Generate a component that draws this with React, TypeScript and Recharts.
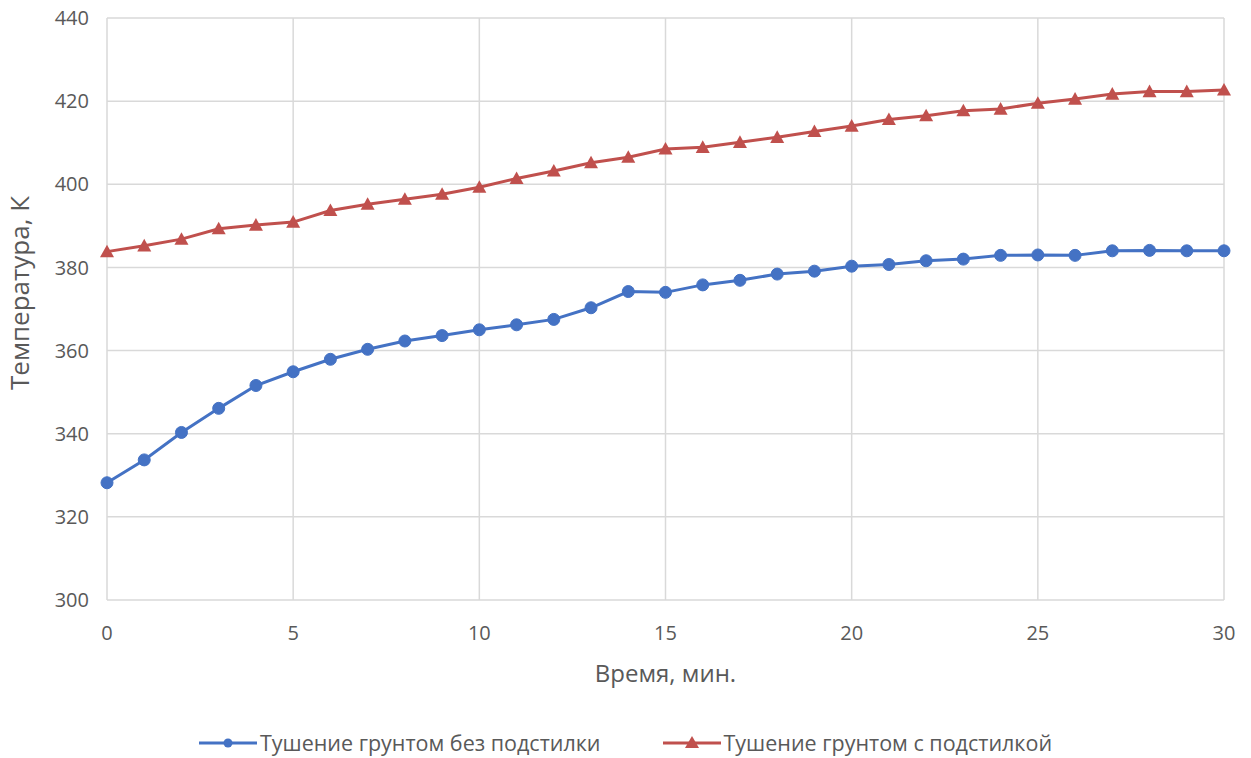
import { LineChart, Line, XAxis, YAxis, CartesianGrid } from 'recharts'

// время, мин.
const minutes = [
  0, 1, 2, 3, 4, 5, 6, 7, 8, 9, 10, 11, 12, 13, 14, 15,
  16, 17, 18, 19, 20, 21, 22, 23, 24, 25, 26, 27, 28, 29, 30,
]

// температура, K
const withoutBedding = [
  328.2, 333.7, 340.3, 346.1, 351.6, 354.9, 357.9, 360.3, 362.3, 363.6, 365.0,
  366.2, 367.5, 370.3, 374.2, 374.0, 375.8, 376.9, 378.4, 379.1, 380.3,
  380.7, 381.6, 382.0, 382.9, 383.0, 382.9, 384.0, 384.1, 384.0, 384.0,
]
const withBedding = [
  383.8, 385.2, 386.8, 389.3, 390.2, 390.9, 393.7, 395.2, 396.4, 397.6, 399.3,
  401.4, 403.2, 405.2, 406.5, 408.5, 408.9, 410.1, 411.3, 412.7, 414.0,
  415.6, 416.5, 417.7, 418.1, 419.5, 420.5, 421.7, 422.3, 422.3, 422.7,
]

const xTicks = [0, 5, 10, 15, 20, 25, 30]
const yTicks = [300, 320, 340, 360, 380, 400, 420, 440]

const SERIES = [
  { key: 'a', name: 'Тушение грунтом без подстилки', color: '#4472C4', shape: 'circle' },
  { key: 'b', name: 'Тушение грунтом с подстилкой', color: '#C0504D', shape: 'triangle' },
]

const data = minutes.map((t, i) => ({ t, a: withoutBedding[i], b: withBedding[i] }))

const FONT = '"Open Sans", "Noto Sans", sans-serif'
const TEXT = '#595959'

function Triangle(props: any) {
  const { cx, cy, fill } = props
  if (cx == null || cy == null) return null
  const s = 7
  return <path d={`M${cx},${cy - s} L${cx + s},${cy + s * 0.8} L${cx - s},${cy + s * 0.8} Z`} fill={fill} />
}

function LegendBox() {
  return (
    <div style={{
      position: 'absolute', left: 0, top: 728, width: 1251,
      display: 'flex', justifyContent: 'center', gap: 62,
      fontFamily: FONT, fontSize: 21.5, color: TEXT, lineHeight: '30px',
    }}>
      {SERIES.map(s => (
        <div key={s.key} style={{ display: 'flex', alignItems: 'center', gap: 3 }}>
          <svg width={58} height={18}>
            <line x1={0} y1={9} x2={58} y2={9} stroke={s.color} strokeWidth={3} />
            {s.shape === 'circle'
              ? <circle cx={29} cy={9} r={4.5} fill={s.color} />
              : <path d="M29,2 L36,14 L22,14 Z" fill={s.color} />}
          </svg>
          <span>{s.name}</span>
        </div>
      ))}
    </div>
  )
}

export default function App() {
  return (
    <div style={{ position: 'absolute', left: 0, top: 0, width: 1251, height: 758, background: '#fff' }}>
      <LineChart width={1251} height={758} data={data} margin={{ top: 18, right: 27, bottom: 128, left: 37 }}>
        <CartesianGrid stroke="#d9d9d9" strokeWidth={1.5} />
        <XAxis
          dataKey="t"
          type="number"
          domain={[0, 30]}
          ticks={xTicks}
          height={30}
          axisLine={false}
          tickLine={false}
          tickMargin={20}
          tick={{ fill: TEXT, fontSize: 20, fontFamily: FONT }}
          label={{ value: 'Время, мин.', position: 'insideBottom', offset: -52, fill: TEXT, fontSize: 24, fontFamily: FONT }}
        />
        <YAxis
          type="number"
          domain={[300, 440]}
          ticks={yTicks}
          width={70}
          axisLine={false}
          tickLine={false}
          tickMargin={12}
          tick={{ fill: TEXT, fontSize: 20, fontFamily: FONT }}
          label={{ value: 'Температура, К', angle: -90, position: 'insideLeft', offset: -17, dy: -16, style: { textAnchor: 'middle' }, fill: TEXT, fontSize: 26, fontFamily: FONT }}
        />
        <Line
          type="linear"
          dataKey="a"
          name={SERIES[0].name}
          stroke={SERIES[0].color}
          strokeWidth={3}
          dot={{ r: 6, fill: SERIES[0].color, stroke: SERIES[0].color, strokeWidth: 1 }}
          isAnimationActive={false}
        />
        <Line
          type="linear"
          dataKey="b"
          name={SERIES[1].name}
          stroke={SERIES[1].color}
          strokeWidth={3}
          dot={(p: any) => <Triangle key={p.index} {...p} fill={SERIES[1].color} />}
          isAnimationActive={false}
        />
      </LineChart>
      <LegendBox />
    </div>
  )
}
